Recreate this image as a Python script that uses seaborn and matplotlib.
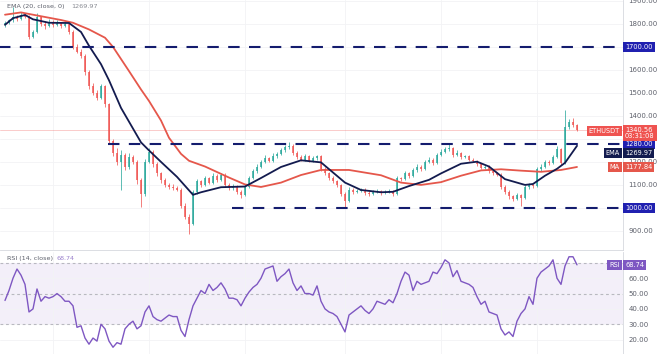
import matplotlib
matplotlib.use("Agg")
import matplotlib.pyplot as plt
import numpy as np
import pandas as pd
import seaborn as sns

# ETH/USD 4h candles
opens = [1795, 1805, 1815, 1830, 1822, 1840, 1832, 1742, 1765, 1830, 1800, 1790,
         1810, 1795, 1805, 1790, 1800, 1765, 1700, 1680, 1660, 1590, 1530, 1500,
         1480, 1530, 1450, 1290, 1240, 1200, 1230, 1180, 1220, 1200, 1120, 1060,
         1200, 1245, 1190, 1150, 1120, 1100, 1090, 1085, 1080, 1010, 960, 930,
         1070, 1115, 1100, 1130, 1110, 1140, 1120, 1145, 1100, 1085, 1095, 1070,
         1055, 1090, 1130, 1160, 1180, 1200, 1215, 1205, 1225, 1235, 1250, 1265,
         1270, 1240, 1220, 1210, 1225, 1205, 1215, 1225, 1170, 1150, 1130, 1115,
         1100, 1060, 1030, 1080, 1070, 1075, 1080, 1065, 1060, 1070, 1075, 1065,
         1070, 1075, 1060, 1130, 1125, 1150, 1140, 1165, 1180, 1170, 1200, 1210,
         1195, 1230, 1245, 1255, 1260, 1230, 1240, 1220, 1225, 1210, 1205, 1190,
         1175, 1180, 1160, 1150, 1145, 1090, 1070, 1050, 1040, 1055, 1045, 1090,
         1100, 1095, 1170, 1180, 1200, 1195, 1220, 1255, 1195, 1350, 1375, 1360]
highs = [1812, 1822, 1875, 1838, 1850, 1846, 1838, 1775, 1848, 1835, 1812, 1820,
         1815, 1815, 1810, 1808, 1806, 1772, 1712, 1690, 1668, 1600, 1545, 1512,
         1540, 1536, 1458, 1300, 1262, 1250, 1238, 1240, 1228, 1210, 1130, 1212,
         1262, 1250, 1200, 1158, 1128, 1108, 1102, 1095, 1086, 1020, 972, 1080,
         1125, 1122, 1140, 1136, 1152, 1146, 1152, 1150, 1108, 1105, 1100, 1078,
         1098, 1140, 1170, 1192, 1210, 1228, 1222, 1238, 1245, 1262, 1275, 1288,
         1276, 1248, 1230, 1235, 1230, 1224, 1232, 1230, 1178, 1158, 1138, 1122,
         1106, 1068, 1090, 1086, 1084, 1088, 1085, 1072, 1078, 1082, 1080, 1078,
         1082, 1080, 1140, 1136, 1160, 1156, 1175, 1190, 1186, 1210, 1222, 1216,
         1240, 1255, 1266, 1276, 1265, 1250, 1245, 1232, 1230, 1216, 1210, 1196,
         1188, 1185, 1166, 1156, 1150, 1098, 1076, 1058, 1065, 1060, 1100, 1110,
         1106, 1180, 1190, 1210, 1208, 1230, 1270, 1260, 1425, 1388, 1392, 1366]
lows = [1788, 1798, 1808, 1812, 1815, 1825, 1735, 1738, 1760, 1792, 1780, 1785,
        1788, 1790, 1782, 1785, 1758, 1690, 1672, 1650, 1580, 1518, 1490, 1470,
        1475, 1440, 1280, 1225, 1185, 1080, 1165, 1170, 1190, 1105, 1005, 1052,
        1195, 1180, 1140, 1110, 1092, 1082, 1076, 1072, 1000, 950, 888, 925,
        1062, 1092, 1095, 1102, 1104, 1112, 1115, 1092, 1076, 1080, 1062, 1045,
        1050, 1085, 1125, 1152, 1175, 1194, 1198, 1200, 1218, 1230, 1245, 1258,
        1232, 1212, 1202, 1205, 1198, 1200, 1210, 1162, 1142, 1122, 1108, 1092,
        1050, 1005, 1025, 1062, 1064, 1070, 1058, 1052, 1055, 1065, 1058, 1060,
        1064, 1052, 1055, 1118, 1120, 1132, 1135, 1158, 1162, 1165, 1195, 1188,
        1190, 1225, 1240, 1248, 1222, 1225, 1212, 1215, 1202, 1198, 1182, 1168,
        1170, 1152, 1142, 1138, 1082, 1060, 1040, 1030, 1035, 1010, 1040, 1082,
        1088, 1090, 1162, 1175, 1188, 1190, 1215, 1185, 1190, 1342, 1352, 1335]
closes = [1805, 1815, 1830, 1822, 1840, 1832, 1742, 1765, 1830, 1800, 1790, 1810,
          1795, 1805, 1790, 1800, 1765, 1700, 1680, 1660, 1590, 1530, 1500, 1480,
          1530, 1450, 1290, 1240, 1200, 1230, 1180, 1220, 1200, 1120, 1060, 1200,
          1245, 1190, 1150, 1120, 1100, 1090, 1085, 1080, 1010, 960, 930, 1070,
          1115, 1100, 1130, 1110, 1140, 1120, 1145, 1100, 1085, 1095, 1070, 1055,
          1090, 1130, 1160, 1180, 1200, 1215, 1205, 1225, 1235, 1250, 1265, 1270,
          1240, 1220, 1210, 1225, 1205, 1215, 1225, 1170, 1150, 1130, 1115, 1100,
          1060, 1030, 1080, 1070, 1075, 1080, 1065, 1060, 1070, 1075, 1065, 1070,
          1075, 1060, 1130, 1125, 1150, 1140, 1165, 1180, 1170, 1200, 1210, 1195,
          1230, 1245, 1255, 1260, 1230, 1240, 1220, 1225, 1210, 1205, 1190, 1175,
          1180, 1160, 1150, 1145, 1090, 1070, 1050, 1040, 1055, 1045, 1090, 1100,
          1095, 1170, 1180, 1200, 1195, 1220, 1255, 1195, 1350, 1375, 1360, 1340.56]

# 20-EMA and 50-SMA as drawn on the chart (candle index, price)
ema_idx = [0, 2, 5, 7, 11, 16, 19, 21, 24, 26, 29, 31, 34, 36, 39, 43, 47, 49, 54, 60,
           64, 69, 74, 79, 85, 89, 94, 97, 101, 106, 109, 114, 118, 121, 125, 130, 132,
           135, 138, 140, 143]
ema_vals = [1796, 1825, 1839, 1820, 1805, 1804, 1765, 1705, 1625, 1555, 1435, 1375, 1285,
            1250, 1200, 1135, 1057, 1068, 1090, 1093, 1130, 1178, 1207, 1198, 1110, 1078,
            1068, 1070, 1095, 1122, 1150, 1192, 1201, 1180, 1125, 1100, 1104, 1140, 1170,
            1196, 1270]
ma_idx = [0, 4, 7, 14, 17, 21, 25, 27, 31, 34, 36, 39, 41, 44, 46, 50, 56, 60, 64, 69,
          74, 79, 86, 94, 99, 104, 109, 114, 119, 124, 129, 134, 139, 143]
ma_vals = [1840, 1850, 1840, 1817, 1805, 1776, 1740, 1700, 1595, 1515, 1465, 1380, 1305,
           1235, 1205, 1180, 1132, 1102, 1091, 1110, 1143, 1165, 1165, 1142, 1110, 1100,
           1112, 1140, 1163, 1168, 1162, 1157, 1165, 1178]

rsi_vals = [45.5, 52, 60, 66, 62, 56, 38, 40, 53, 45, 48, 47,
            48, 50, 48, 45, 45, 42, 28, 29, 21, 17, 21, 19,
            30, 27, 19, 15, 18, 17, 27, 30, 32, 27, 29, 38,
            42, 35, 33, 32, 34, 36, 35, 35, 26, 22, 33, 42,
            47, 52, 50, 56, 52, 54, 57, 53, 47, 47, 46, 42,
            47, 51, 54, 56, 60, 66, 67, 68, 58, 61, 63, 66,
            57, 52, 55, 50, 50, 49, 55, 45, 40, 38, 37, 35,
            30, 25, 36, 38, 40, 42, 39, 37, 40, 45, 44, 43,
            46, 44, 50, 58, 64, 62, 52, 58, 56, 57, 58, 64,
            63, 67, 72, 70, 61, 65, 58, 57, 56, 54, 48, 43,
            45, 38, 37, 36, 27, 23, 25, 22, 32, 37, 40, 48,
            43, 60, 64, 66, 68, 72, 60, 56, 68, 74, 74, 68.74]

levels = [1700, 1280, 1000]
level_start = [-2, 25.8, 56.8]

price_ticks = [900, 1000, 1100, 1200, 1300, 1400, 1500, 1600, 1700, 1800, 1900]
hidden_ticks = [1000, 1300, 1700]
rsi_ticks = [20, 30, 40, 50, 60]

UP, DOWN = "#26a69a", "#ef5350"
NAVY = "#131b4f"
LEVEL_C = "#141c6e"
BOX_BLUE = "#2020b0"
MA_C = "#e5574b"
RSI_C = "#7e57c2"
TXT = "#5d606b"

sns.set_style("white")
plt.rcParams['font.family'] = ['DejaVu Sans']

df = pd.DataFrame({'open': opens, 'high': highs, 'low': lows, 'close': closes})
df['i'] = np.arange(len(df))
up = df['close'] >= df['open']
colors = np.where(up, UP, DOWN)

fig = plt.figure(figsize=(6.6, 3.54), dpi=100)
W = 623 / 660
ax = fig.add_axes([0, 104 / 354, W, 250 / 354])
rax = fig.add_axes([0, 0, W, 102 / 354])

xlim = (-1.25, len(df) - 1 + (623 - 577) / 4)

# price panel
ax.vlines(df['i'], df['low'], df['high'], colors=colors, lw=0.7, alpha=0.75, zorder=2)
ax.bar(df['i'], (df['close'] - df['open']).abs().clip(lower=2),
       bottom=df[['open', 'close']].min(axis=1), width=0.62, color=colors,
       alpha=0.75, linewidth=0, zorder=2)

ax.axhline(closes[-1], color=DOWN, lw=0.6, alpha=0.35, zorder=1)

sns.lineplot(x=ma_idx, y=ma_vals, ax=ax, color=MA_C, lw=1.3, zorder=3)
sns.lineplot(x=ema_idx, y=ema_vals, ax=ax, color=NAVY, lw=1.3, zorder=4)

for lvl, start in zip(levels, level_start):
    ax.plot([start, xlim[1]], [lvl, lvl], color=LEVEL_C, lw=1.5,
            dashes=(5.5, 4.5), zorder=5)

ax.set_xlim(*xlim)
ax.set_ylim(817, 1904)
ax.yaxis.tick_right()
ax.set_yticks(price_ticks)
ax.set_yticklabels(["" if v in hidden_ticks else f"{v:.2f}" for v in price_ticks])
ax.set_xticks([12, 36, 60, 85, 109, 133])
ax.set_xticklabels([])
ax.tick_params(length=0, labelsize=5, labelcolor=TXT, pad=4)
ax.grid(True, color="#f2f3f5", lw=0.6)
for s in ['left', 'top']:
    ax.spines[s].set_visible(False)
ax.spines['right'].set_color("#d6d8de")
ax.spines['bottom'].set_color("#d6d8de")
ax.spines['right'].set_linewidth(0.6)
ax.spines['bottom'].set_linewidth(0.6)
ax.set_xlabel("")
ax.set_ylabel("")

ax.text(0.012, 0.975, "EMA (20, close, 0)", transform=ax.transAxes, fontsize=4.6,
        color=TXT, va='center')
ax.text(0.115, 0.975, "1269.97", transform=ax.transAxes, fontsize=4.6,
        color="#888a92", va='center')

xr = 1 + 2 / 623
xl = 1 - 3 / 623


def tag(a, x, y, s, bg, ha='left', fs=4.8):
    a.text(x, y, s, transform=a.get_yaxis_transform(), fontsize=fs, color='white',
           ha=ha, va='center', clip_on=False, zorder=10, linespacing=1.0,
           bbox=dict(boxstyle='square,pad=0.3', fc=bg, ec='none'))


for lvl in levels:
    tag(ax, xr, lvl, f"{lvl:.2f}", BOX_BLUE)
tag(ax, xr, 1326, "1340.56\n03:31:08", DOWN)
tag(ax, xl, 1336, "ETHUSDT", DOWN, ha='right')
tag(ax, xr, 1239, "1269.97", NAVY)
tag(ax, xl, 1239, "EMA", NAVY, ha='right')
tag(ax, xr, 1178, "1177.84", MA_C)
tag(ax, xl, 1178, "MA", MA_C, ha='right')

# RSI panel
rax.axhspan(30, 70, color=RSI_C, alpha=0.09, lw=0, zorder=0)
for lvl in [70, 50, 30]:
    rax.axhline(lvl, color="#b8b8c0", lw=0.8, dashes=(2.5, 2.5), zorder=1)
sns.lineplot(x=df['i'], y=rsi_vals, ax=rax, color=RSI_C, lw=1.0, zorder=3)
rax.set_xlim(*xlim)
rax.set_ylim(10.6, 77.1)
rax.yaxis.tick_right()
rax.set_yticks(rsi_ticks)
rax.set_yticklabels([f"{v:.2f}" for v in rsi_ticks])
rax.set_xticks([12, 36, 60, 85, 109, 133])
rax.set_xticklabels([])
rax.tick_params(length=0, labelsize=5, labelcolor=TXT, pad=4)
rax.grid(True, color="#f2f3f5", lw=0.6)
for s in ['left', 'top', 'bottom']:
    rax.spines[s].set_visible(False)
rax.spines['right'].set_color("#d6d8de")
rax.spines['right'].set_linewidth(0.6)
rax.set_xlabel("")
rax.set_ylabel("")
rax.text(0.012, 0.94, "RSI (14, close)", transform=rax.transAxes, fontsize=4.6,
         color=TXT, va='center')
rax.text(0.09, 0.94, "68.74", transform=rax.transAxes, fontsize=4.6,
         color="#9a80cc", va='center')
tag(rax, xr, 68.74, "68.74", RSI_C)
tag(rax, xl, 68.74, "RSI", RSI_C, ha='right')

fig.savefig("out.png", dpi=100)
plt.close(fig)
